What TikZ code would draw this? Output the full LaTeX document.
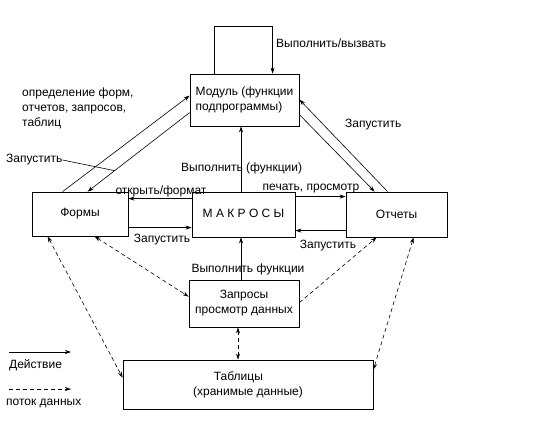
\documentclass[tikz,border=0pt]{standalone}
\usepackage{fontspec}
\setmainfont{Liberation Sans}
\usetikzlibrary{arrows.meta,calc}
\begin{document}
\begin{tikzpicture}[x=1pt,y=-1pt,
  font=\fontsize{12}{15}\selectfont,
  box/.style={draw,line width=0.8pt,inner sep=0pt,align=center},
  act/.style={draw,line width=0.6pt,-{Stealth[length=6pt,width=4pt]}},
  flow/.style={draw,line width=0.6pt,dash pattern=on 4pt off 3pt,-{Stealth[length=6pt,width=4pt]}},
  flow2/.style={flow,{Stealth[length=6pt,width=4pt]}-{Stealth[length=6pt,width=4pt]}},
  lbl/.style={inner sep=0pt}]
\useasboundingbox (0,0) rectangle (543,429);
% boxes
\node[box,minimum width=109pt,minimum height=52pt,align=left] (mod) at (244.5,100) {Модуль (функции\\подпрограммы)};
\node[box,minimum width=96pt,minimum height=44pt] (forms) at (80,214) {Формы};
\node[box,minimum width=103pt,minimum height=45pt] (mac) at (243.5,214.5) {\raisebox{2pt}{М А К Р О С Ы}};
\node[box,minimum width=101pt,minimum height=45pt] (rep) at (396.5,214.5) {Отчеты};
\node[box,minimum width=110pt,minimum height=47pt] (qry) at (244,303.5) {Запросы\\просмотр данных};
\node[box,minimum width=250pt,minimum height=49pt] (tab) at (248,384.5) {Таблицы\hspace*{1.6em}\\(хранимые данные)};
% self loop
\draw[act] ($(mod.north west)+(25,0)$) -- ++(0,-47) -| ($(mod.north west)+(83,0)$);
% forms <-> module
\draw[act] ($(forms.north west)+(31,0)$) -- ($(mod.north west)+(0,22)$);
\draw[act] ($(mod.north west)+(0,39)$) -- coordinate[pos=0.735] (lead) ($(forms.north west)+(56,0)$);
% module <-> reports
\draw[act] ($(rep.north west)+(42,0)$) -- ($(mod.north east)+(0,26)$);
\draw[act] ($(mod.north east)+(0,41)$) -- ($(rep.north west)+(29,0)$);
% macros -> module, queries -> macros
\draw[act] ($(mac.north)+(-2.5,0)$) coordinate (m1) -- (m1 |- mod.south);
\draw[act] ($(qry.north)+(-3,0)$) coordinate (q1) -- (q1 |- mac.south);
% macros <-> forms
\draw[act] ($(mac.north west)+(0,7)$) coordinate (a1) -- (a1 -| forms.east);
\draw[act] ($(forms.north east)+(0,36)$) coordinate (a2) -- (a2 -| mac.west);
% macros <-> reports
\draw[act] ($(mac.north east)+(0,5)$) coordinate (a3) -- (a3 -| rep.west);
\draw[act] ($(rep.north west)+(0,39)$) coordinate (a4) -- (a4 -| mac.east);
% data flows
\draw[flow2] ($(forms.south west)+(63,0)$) -- ($(qry.north west)+(0,17)$);
\draw[flow2] ($(forms.south west)+(16,0)$) -- ($(tab.north west)+(0,18)$);
\draw[flow] ($(qry.north east)+(0,23)$) -- ($(rep.south west)+(31,0)$);
\draw[flow2] ($(rep.south west)+(68,0)$) -- ($(tab.north east)+(0,10)$);
\draw[flow2] ($(qry.south)+(-6,0)$) coordinate (q2) -- (q2 |- tab.north);
% labels
\node[lbl,anchor=west] (l1) at (276,43) {Выполнить/вызвать};
\node[lbl,anchor=north west,align=left,font=\fontsize{12}{15}\selectfont] (l2) at (22,88) {определение форм,\\отчетов, запросов,\\таблиц};
\node[lbl,anchor=west] (l3) at (6,160) {Запустить};
\draw[line width=0.6pt] (l3.east) -- (lead);
\node[lbl,anchor=west] (l4) at (345,125) {Запустить};
\node[lbl,anchor=west] (l5) at (181,168) {Выполнить (функции)};
\node[lbl] (l6) at (161,191) {открыть/формат};
\node[lbl] (l7) at (311,189) {печать, просмотр};
\node[lbl] (l8) at (162,240) {Запустить};
\node[lbl] (l9) at (328,246) {Запустить};
\node[lbl] (l10) at (248,269) {Выполнить функции};
% legend
\coordinate (g1) at (9,352); \coordinate (g2) at (71,352);
\coordinate (g3) at (9,389); \coordinate (g4) at (71,389);
\draw[act] (g1) -- (g2);
\draw[flow] (g3) -- (g4);
\node[lbl,anchor=west] (l11) at (9,365) {Действие};
\node[lbl,anchor=west] (l12) at (6,403) {поток данных};
\end{tikzpicture}
\end{document}
